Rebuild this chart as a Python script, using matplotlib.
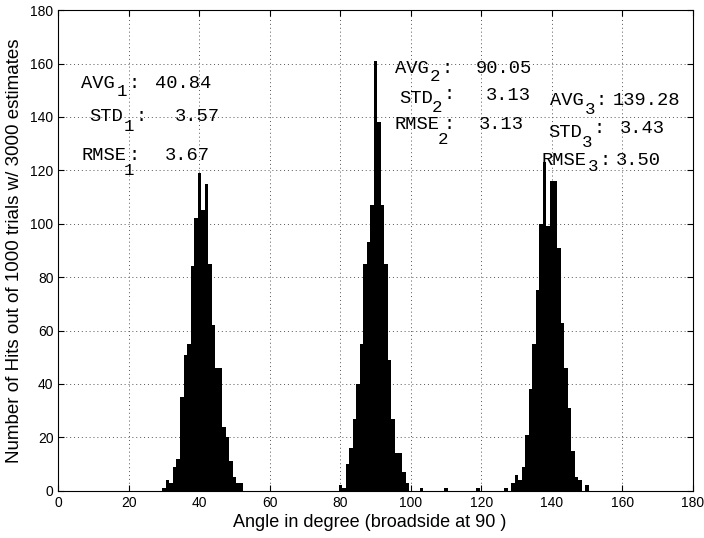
import matplotlib
matplotlib.use("Agg")
import matplotlib.pyplot as plt
import numpy as np

# ---- data ----
c1_angles = list(range(30, 53))
c1_counts = [1, 4, 3, 9, 12, 35, 51, 55, 84, 102, 119, 105, 115, 85, 62, 46, 46, 24, 20, 11, 5, 3, 3]

c2_angles = [80, 81, 82, 83, 84, 85, 86, 87, 88, 89, 90, 91, 92, 93, 94, 95, 96, 97, 98, 99,
             103, 110, 119]
c2_counts = [2, 1, 10, 16, 27, 40, 55, 85, 93, 107, 161, 138, 107, 85, 49, 27, 14, 14, 7, 3,
             1, 1, 1]

c3_angles = [127, 129, 130, 131, 132, 133, 134, 135, 136, 137, 138, 139, 140, 141, 142, 143,
             144, 145, 146, 147, 148, 150]
c3_counts = [1, 3, 6, 4, 9, 21, 38, 55, 75, 100, 123, 99, 116, 116, 91, 63,
             46, 31, 15, 5, 4, 2]

x_ticks = list(range(0, 181, 20))
y_ticks = list(range(0, 181, 20))

stat_names = ["AVG", "STD", "RMSE"]
stat_values = [["40.84", "3.57", "3.67"],
               ["90.05", "3.13", "3.13"],
               ["139.28", "3.43", "3.50"]]

# ---- histogram table (1-degree bins centred on integers) ----
bin_centres = np.arange(0, 181)
hist_counts = np.zeros(len(bin_centres))
for xs, cs in [(c1_angles, c1_counts), (c2_angles, c2_counts), (c3_angles, c3_counts)]:
    for a, c in zip(xs, cs):
        hist_counts[a] += c
bin_edges = np.append(bin_centres - 0.5, bin_centres[-1] + 0.5)

# ---- figure ----
fig = plt.figure(figsize=(7.04, 5.38), dpi=100)
ax = fig.add_axes([0.083, 0.088, 0.901, 0.893])

ax.stairs(hist_counts, bin_edges, fill=True, color="black", zorder=2)

ax.set_xlim(0, 180)
ax.set_ylim(0, 180)
ax.set_xticks(x_ticks)
ax.set_yticks(y_ticks)
ax.grid(True, linestyle=(0, (1, 3)), color="#555555", linewidth=0.7, zorder=0)
ax.set_axisbelow(True)
ax.tick_params(direction="in", length=4, labelsize=10, top=True, right=True)
for lab in ax.get_xticklabels() + ax.get_yticklabels():
    lab.set_family("Liberation Sans")
for sp in ax.spines.values():
    sp.set_linewidth(0.8)

ax.set_xlabel("Angle in degree (broadside at 90 )", fontsize=13, family="Liberation Sans")
ax.set_ylabel("Number of Hits out of 1000 trials w/ 3000 estimates", fontsize=13.5,
              family="Liberation Sans")
ax.xaxis.set_label_coords(0.49, -0.048)
ax.yaxis.set_label_coords(-0.056, 0.5)

# ---- annotations (MATLAB-style subscripts) ----
mono = dict(family="Liberation Mono", fontsize=13.5, va="center", ha="left", zorder=3)
subf = dict(family="Liberation Mono", fontsize=12.5, va="center", ha="left", zorder=3)

# per cluster, per stat: name pos, subscript pos, colon pos, value pos (data coords)
layout = [
    [((6.5, 152.6), (16.4, 149.6), (19.8, 152.6), (27.3, 152.6)),
     ((8.8, 140.2), (18.4, 136.4), (21.8, 140.2), (33.0, 140.2)),
     ((6.5, 125.6), (18.6, 120.0), (20.0, 125.6), (30.2, 125.6))],
    [((95.5, 158.2), (105.3, 155.2), (108.8, 158.2), (118.3, 158.2)),
     ((96.8, 147.0), (106.0, 143.4), (109.2, 148.6), (121.2, 148.2)),
     ((95.5, 137.0), (107.6, 131.4), (109.4, 137.0), (119.4, 137.0))],
    [((139.5, 146.2), (149.3, 142.8), (152.4, 146.2), (157.3, 146.2)),
     ((139.0, 134.0), (148.6, 130.6), (151.9, 135.6), (159.4, 135.6)),
     ((137.2, 123.7), (150.2, 121.4), (153.6, 123.7), (158.3, 123.7))],
]

for ci in range(3):
    for si in range(3):
        npos, spos, cpos, vpos = layout[ci][si]
        ax.text(npos[0], npos[1], stat_names[si], **mono)
        ax.text(spos[0], spos[1], str(ci + 1), **subf)
        ax.text(cpos[0], cpos[1], ":", **mono)
        ax.text(vpos[0], vpos[1], stat_values[ci][si], **mono)

fig.savefig("out.png", dpi=100)
